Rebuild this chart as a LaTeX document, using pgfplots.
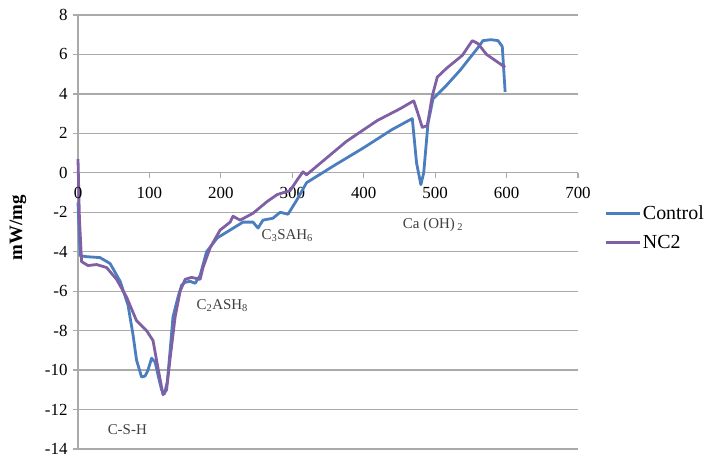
\documentclass[border=0pt]{standalone}
\usepackage{fontspec}
\setmainfont{Liberation Serif}
\usepackage{pgfplots}
\pgfplotsset{compat=1.18}
\definecolor{ctrl}{RGB}{74,126,190}
\definecolor{nc}{RGB}{128,96,164}
\definecolor{gridc}{RGB}{170,170,170}
\begin{document}
\begin{tikzpicture}
\useasboundingbox (0,0) rectangle (711bp,459bp);
\begin{axis}[
  at={(78bp,10bp)}, anchor=south west,
  scale only axis, width=500bp, height=434bp,
  xmin=0, xmax=700, ymin=-14, ymax=8,
  xtick={0,100,...,700}, ytick={-14,-12,...,8},
  axis y line*=left, axis x line*=middle,
  axis line style={gridc, line width=1.2bp, -},
  tick align=outside, major tick length=5bp,
  tick style={gridc, line width=1.2bp},
  ymajorgrids, grid style={gridc, line width=1.2bp},
  /pgf/number format/assume math mode=true,
  ticklabel style={font=\fontsize{17}{19}\selectfont},
  xticklabel style={yshift=-6bp},
  yticklabel style={inner ysep=0.5bp, xshift=-2bp},
  ylabel={\textbf{mW/mg}},
  ylabel style={at={(axis description cs:-0.12,0.51)}, anchor=center, font=\fontsize{19}{21}\selectfont},
  legend style={at={(axis description cs:1.052,0.509)}, anchor=west, draw=none, fill=none,
    font=\fontsize{20}{22}\selectfont, row sep=10bp, inner sep=0pt},
  legend cell align=left,
  legend image code/.code={\draw[#1] (0bp,0bp) -- (34bp,0bp);},
  clip=false,
]
\addplot[ctrl, line width=2.8bp, line join=round] coordinates {
(0,-1.5) (3,-4.2) (12,-4.25) (31,-4.3) (45,-4.6) (59,-5.5) (70,-6.7) (77,-8.2) (82,-9.5)
(89,-10.35) (94,-10.3) (98,-10.0) (103,-9.4) (108,-9.6) (113,-10.4) (117,-11.0) (121,-11.2)
(125,-10.6) (129,-9.0) (133,-7.3) (140,-6.3) (145,-5.7) (150,-5.55) (157,-5.5) (164,-5.6)
(171,-5.2) (180,-4.0) (195,-3.3) (213,-2.9) (231,-2.5) (245,-2.5) (252,-2.8) (259,-2.4)
(273,-2.3) (283,-2.0) (294,-2.1) (306,-1.4) (320,-0.5) (360,0.4) (399,1.25) (440,2.2)
(468,2.75) (474,0.5) (480,-0.6) (484,0.0) (490,2.5) (497,3.75) (515,4.4) (535,5.2)
(559,6.3) (567,6.7) (578,6.75) (588,6.7) (594,6.4) (598,4.1)
};
\addlegendentry{Control}
\addplot[nc, line width=2.8bp, line join=round] coordinates {
(0,0.7) (2,-2.3) (5,-4.5) (14,-4.7) (26,-4.65) (40,-4.8) (54,-5.4) (68,-6.3) (82,-7.5)
(96,-8.0) (105,-8.5) (112,-9.9) (119,-11.25) (124,-11.0) (129,-9.4) (136,-7.3) (143,-6.0)
(150,-5.4) (159,-5.3) (171,-5.4) (175,-4.8) (185,-3.8) (199,-2.9) (213,-2.5) (217,-2.2)
(227,-2.4) (245,-2.05) (265,-1.45) (279,-1.1) (297,-0.9) (308,-0.3) (315,0.05) (320,-0.1)
(343,0.6) (376,1.6) (419,2.65) (451,3.25) (470,3.65) (476,3.0) (482,2.3) (489,2.4)
(496,3.9) (503,4.85) (516,5.3) (538,5.95) (552,6.7) (560,6.55) (572,6.0) (598,5.35)
};
\addlegendentry{NC2}
\node[font=\fontsize{17}{19}\selectfont, anchor=north, yshift=-11bp] at (axis cs:0,0) {0};
\node[font=\fontsize{15}{17}\selectfont, text=black!75] at (axis cs:69,-13.0) {C-S-H};
\node[font=\fontsize{15}{17}\selectfont, text=black!75] at (axis cs:202,-6.74) {C\textsubscript{2}ASH\textsubscript{8}};
\node[font=\fontsize{15}{17}\selectfont, text=black!75] at (axis cs:293,-3.2) {C\textsubscript{3}SAH\textsubscript{6}};
\node[font=\fontsize{15}{17}\selectfont, text=black!75] at (axis cs:497,-2.65) {Ca (OH)\,\textsubscript{2}};
\end{axis}
\end{tikzpicture}
\end{document}
